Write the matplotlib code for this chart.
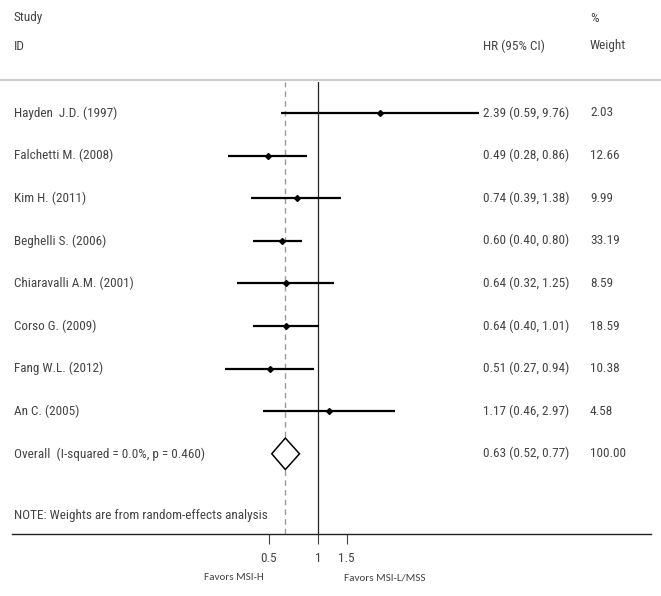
import numpy as np
import matplotlib
matplotlib.use("Agg")
import matplotlib.pyplot as plt
from matplotlib.transforms import blended_transform_factory

plt.rcParams['font.family'] = ['Roboto Condensed', 'DejaVu Sans']

studies = ["Hayden  J.D. (1997)", "Falchetti M. (2008)", "Kim H. (2011)",
           "Beghelli S. (2006)", "Chiaravalli A.M. (2001)", "Corso G. (2009)",
           "Fang W.L. (2012)", "An C. (2005)"]
hr = [2.39, 0.49, 0.74, 0.60, 0.64, 0.64, 0.51, 1.17]
ci_low = [0.59, 0.28, 0.39, 0.40, 0.32, 0.40, 0.27, 0.46]
ci_high = [9.76, 0.86, 1.38, 0.80, 1.25, 1.01, 0.94, 2.97]
weights = [2.03, 12.66, 9.99, 33.19, 8.59, 18.59, 10.38, 4.58]

overall_label = "Overall  (I-squared = 0.0%, p = 0.460)"
overall_hr = 0.63
overall_low = 0.52
overall_high = 0.77
overall_weight = 100.00

xticks = [0.5, 1, 1.5]
xtick_labels = ["0.5", "1", "1.5"]

W, H = 661, 596
fig = plt.figure(figsize=(W / 100, H / 100), dpi=100)

# axes box in pixels
left, right, top, bottom = 12, 651, 82, 534
ax = fig.add_axes([left / W, 1 - bottom / H, (right - left) / W, (bottom - top) / H])

# log scale: x=1 at 318 px, 70.7 px per ln unit
x_one, ppl = 318, 70.7
ax.set_xscale('log')
ax.set_xlim(np.exp((left - x_one) / ppl), np.exp((right - x_one) / ppl))

row0, step = 113, 42.6
ax.set_ylim((bottom - row0) / step, (top - row0) / step)

for s in ['top', 'left', 'right']:
    ax.spines[s].set_visible(False)
ax.spines['bottom'].set_linewidth(1.0)
ax.spines['bottom'].set_color('#222222')
ax.set_yticks([])
ax.set_xticks(xticks)
ax.set_xticklabels(xtick_labels)
ax.minorticks_off()
ax.tick_params(axis='x', length=7, width=0.8, labelsize=9.5, pad=6, colors='#444444')

rows = np.arange(len(studies))
n = len(studies)

ax.axvline(1, color='#222222', lw=0.9)
ax.axvline(overall_hr, color='#999999', lw=1.0, ls=(0, (4, 3)))

ax.hlines(rows, ci_low, ci_high, color='black', lw=1.6)
ax.plot(hr, rows, 'D', color='black', ms=3)

# overall diamond
dh = 0.37
ax.fill([overall_low, overall_hr, overall_high, overall_hr, overall_low],
        [n, n - dh, n, n + dh, n], facecolor='white', edgecolor='black', lw=1.1, zorder=3)

tr = blended_transform_factory(fig.transFigure, ax.transData)
tc = '#444444'
fs = 9.5
col_study, col_hr, col_w = 14 / W, 483 / W, 590 / W

def put(x, y, s):
    ax.text(x, y, s, transform=tr, va='center', fontsize=fs, color=tc, clip_on=False)

for i in range(n):
    put(col_study, i, studies[i])
    put(col_hr, i, "%.2f (%.2f, %.2f)" % (hr[i], ci_low[i], ci_high[i]))
    put(col_w, i, "%.2f" % weights[i])

put(col_study, n, overall_label)
put(col_hr, n, "%.2f (%.2f, %.2f)" % (overall_hr, overall_low, overall_high))
put(col_w, n, "%.2f" % overall_weight)

put(col_study, (516 - row0) / step, "NOTE: Weights are from random-effects analysis")

# headers
y_study = (18 - row0) / step
y_id = (46 - row0) / step
put(col_study, y_study, "Study")
put(col_study, y_id, "ID")
put(col_hr, y_id, "HR (95% CI)")
put(col_w, y_study, "%")
put(col_w, y_id, "Weight")

fig.add_artist(plt.Line2D([0, 1], [1 - 80 / H, 1 - 80 / H], transform=fig.transFigure,
                          color='#cccccc', lw=1.5))

fig.text(264 / W, 1 - 578 / H, "Favors MSI-H", ha='right', va='center', fontsize=8,
         color=tc, family=['Carlito', 'DejaVu Sans'])
fig.text(344 / W, 1 - 578 / H, "Favors MSI-L/MSS", ha='left', va='center', fontsize=8,
         color=tc, family=['Carlito', 'DejaVu Sans'])

fig.savefig("out.png", dpi=100)
